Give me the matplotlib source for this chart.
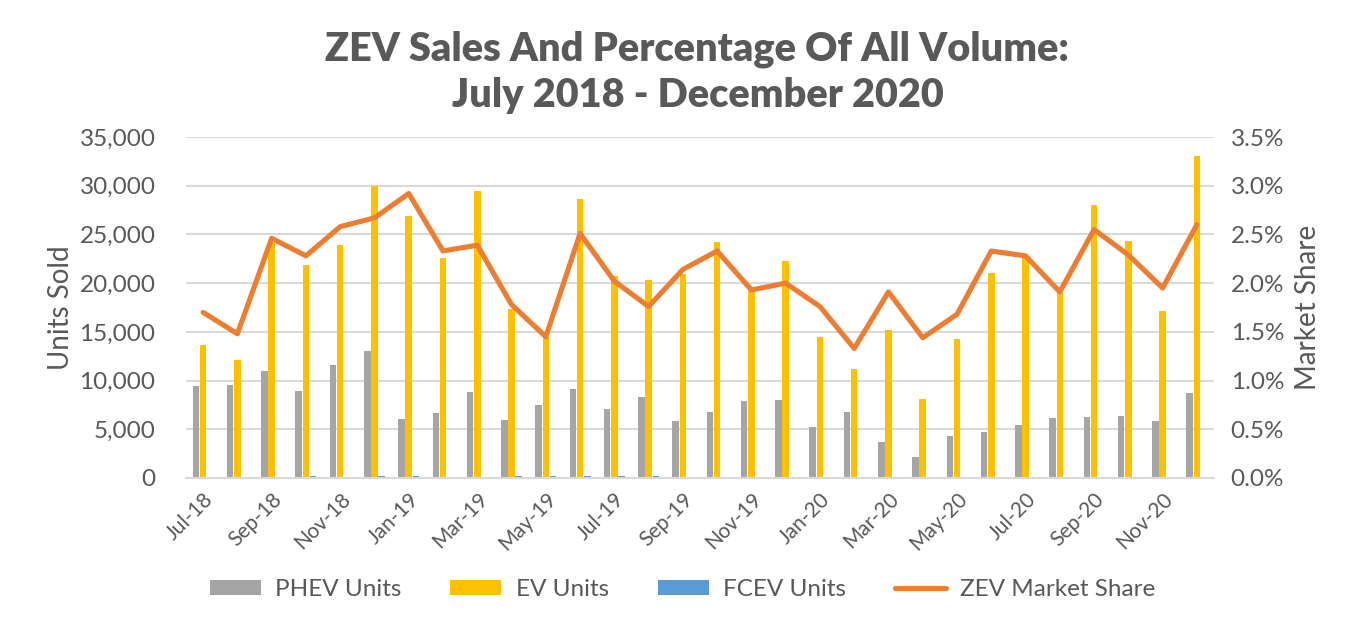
''' ZEV sales and market share, Jul 2018 - Dec 2020. '''

import numpy as np
from matplotlib import pyplot as plt
from matplotlib.ticker import FuncFormatter, MultipleLocator

months = ['Jul-18', 'Aug-18', 'Sep-18', 'Oct-18', 'Nov-18', 'Dec-18',
          'Jan-19', 'Feb-19', 'Mar-19', 'Apr-19', 'May-19', 'Jun-19',
          'Jul-19', 'Aug-19', 'Sep-19', 'Oct-19', 'Nov-19', 'Dec-19',
          'Jan-20', 'Feb-20', 'Mar-20', 'Apr-20', 'May-20', 'Jun-20',
          'Jul-20', 'Aug-20', 'Sep-20', 'Oct-20', 'Nov-20', 'Dec-20']

phev = [9400, 9500, 11000, 8900, 11600, 13000,
        6050, 6700, 8850, 5950, 7500, 9100,
        7100, 8300, 5850, 6750, 7900, 8000,
        5250, 6750, 3700, 2150, 4300, 4700,
        5400, 6150, 6250, 6350, 5850, 8700]

ev = [13700, 12100, 24100, 21900, 23900, 30000,
      26900, 22600, 29500, 17350, 14500, 28600,
      20700, 20300, 20900, 24200, 19200, 22300,
      14500, 11200, 15200, 8100, 14300, 21000,
      22600, 19000, 28000, 24300, 17150, 33100]

fcev = [0, 150, 150, 200, 100, 200,
        250, 100, 120, 200, 250, 250,
        200, 200, 100, 100, 150, 150,
        120, 60, 150, 30, 10, 10,
        10, 50, 50, 20, 30, 10]

share = [1.70, 1.48, 2.46, 2.28, 2.58, 2.67,
         2.92, 2.33, 2.39, 1.78, 1.45, 2.51,
         2.02, 1.76, 2.14, 2.33, 1.93, 2.00,
         1.76, 1.33, 1.91, 1.44, 1.68, 2.33,
         2.28, 1.91, 2.55, 2.29, 1.95, 2.60]

textCol = '#595959'
gridCol = '#d9d9d9'
plt.rcParams['font.family'] = ['Lato', 'DejaVu Sans']

fig = plt.figure(figsize=(13.49, 6.26), dpi=100)
ax = fig.add_axes([186/1349, 1 - 478/626, (1214-186)/1349, (478-137)/626])
ax2 = ax.twinx()

x = np.arange(len(months))
w = 0.19
ax.bar(x - 0.21, phev, w, color='#A5A5A5', label='PHEV Units', zorder=2)
ax.bar(x, ev, w, color='#FFC000', label='EV Units', zorder=2)
ax.bar(x + 0.21, fcev, w, color='#5B9BD5', label='FCEV Units', zorder=2)
ax2.plot(x, share, color='#ED7D31', lw=3.7, solid_capstyle='round',
         solid_joinstyle='round', label='ZEV Market Share')

ax.set_xlim(-0.5, len(months) - 0.5)
ax.set_ylim(0, 35000)
ax2.set_ylim(0, 3.5)
ax.yaxis.set_major_locator(MultipleLocator(5000))
ax2.yaxis.set_major_locator(MultipleLocator(0.5))
ax.yaxis.set_major_formatter(FuncFormatter(lambda v, p: '{:,.0f}'.format(v)))
ax2.yaxis.set_major_formatter(FuncFormatter(lambda v, p: '{:.1f}%'.format(v)))
ax.grid(axis='y', color=gridCol, lw=1.5, zorder=0)
ax.set_axisbelow(True)

ax.set_xticks(x[::2])
ax.set_xticklabels(months[::2], rotation=45, ha='right', rotation_mode='anchor',
                   color=textCol)
for a in (ax, ax2):
    for s in a.spines.values():
        s.set_visible(False)
    a.tick_params(length=0, labelsize=17.5, colors=textCol)
ax.spines['bottom'].set_visible(True)
ax.spines['bottom'].set_color(gridCol)
ax.spines['bottom'].set_linewidth(1.5)
ax.tick_params(axis='x', pad=8, labelsize=15)
ax.tick_params(axis='y', pad=22)
ax2.tick_params(axis='y', pad=12)

ax.set_ylabel('Units Sold', fontsize=20, color=textCol, labelpad=4)
ax2.set_ylabel('Market Share', fontsize=20, color=textCol, labelpad=8)

fig.text(0.517, 0.885, 'ZEV Sales And Percentage Of All Volume:\nJuly 2018 - December 2020',
         ha='center', va='center', fontsize=28.5, fontweight='heavy', color=textCol,
         linespacing=1.3)

h1, l1 = ax.get_legend_handles_labels()
h2, l2 = ax2.get_legend_handles_labels()
fig.legend(h1 + h2, l1 + l2, loc='center', bbox_to_anchor=(0.506, 0.058), ncol=4,
           frameon=False, fontsize=17.5, labelcolor=textCol, handlelength=2.1,
           handleheight=0.6, columnspacing=2.0, handletextpad=0.6)

fig.savefig('out.png', dpi=100)
